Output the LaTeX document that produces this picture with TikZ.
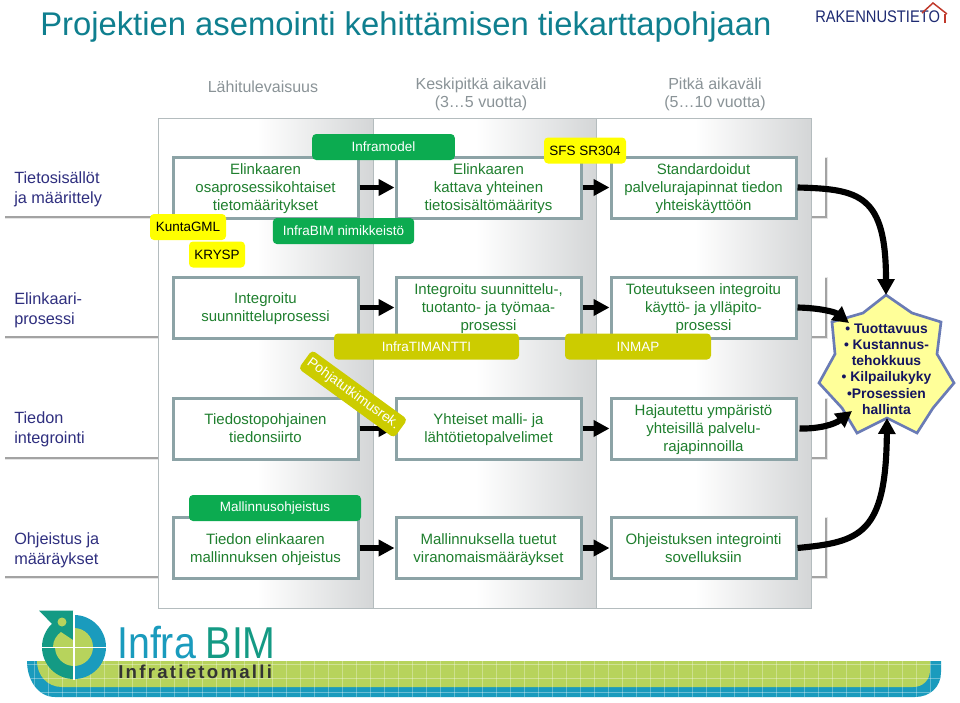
\documentclass[tikz,border=0pt]{standalone}
\usepackage{fontspec}
\usepackage{graphicx}
\setmainfont{Liberation Sans}
\usetikzlibrary{arrows.meta,shapes.geometric}
\definecolor{boxedge}{HTML}{8CA3A6}
\definecolor{boxtext}{HTML}{1F7F2E}
\definecolor{headtext}{HTML}{2F2F7F}
\definecolor{greytext}{HTML}{8A9397}
\definecolor{titlecol}{HTML}{0F7F8F}
\definecolor{taggreen}{HTML}{0CAB50}
\definecolor{tagyellow}{HTML}{FFFF00}
\definecolor{tagolive}{HTML}{CCCC00}
\definecolor{panelgrey}{HTML}{D4D6D7}
\definecolor{paneledge}{HTML}{B4BCBE}
\definecolor{logoteal}{HTML}{149A84}
\definecolor{logoblue}{HTML}{1A9BBD}
\definecolor{logolime}{HTML}{B7D35C}
\definecolor{starfill}{HTML}{FFFF99}
\definecolor{staredge}{HTML}{6A7BB5}
\definecolor{navy}{HTML}{14145F}
\definecolor{rtnavy}{HTML}{1D2A72}
\definecolor{rtred}{HTML}{C0392B}
\pgfdeclarehorizontalshading{panelshade}{100bp}{color(0bp)=(white);color(48bp)=(white);color(75bp)=(panelgrey);color(100bp)=(panelgrey)}
\newcommand\lns[1]{\vbox{\vskip2.4pt\hbox{\begin{tabular}{@{}c@{}}#1\end{tabular}}}}
\tikzset{
  x=0.75pt,y=-0.75pt,
  panel/.style={draw=paneledge,line width=0.75pt,shading=panelshade},
  strip/.style={fill=white},
  stripshadow/.style={fill=black!36},
  stripshadowb/.style={fill=black!10},
  headlabel/.style={anchor=west,align=left,inner sep=0pt,text=headtext,font=\fontsize{12.2}{15}\selectfont},
  stepbox/.style={draw=boxedge,fill=white,line width=2.25pt,minimum width=138.75pt,minimum height=45.75pt,inner sep=0pt,text=boxtext,font=\fontsize{11.25}{13.5}\selectfont},
  tag/.style={rounded corners=3pt,inner sep=0pt,minimum height=19.5pt,font=\fontsize{10.1}{12}\selectfont},
  greentag/.style={tag,fill=taggreen,text=white},
  yellowtag/.style={tag,fill=tagyellow,text=black},
  olivetag/.style={tag,fill=tagolive,text=white},
  flow/.style={line width=4.2pt,-{Triangle[length=12pt,width=12pt]}},
  bigflow/.style={line width=4.6pt,-{Triangle[length=12pt,width=12.5pt]}},
  coltitle/.style={align=center,text=greytext,inner sep=0pt,font=\fontsize{12}{13.5}\selectfont},
}
\begin{document}
\begin{tikzpicture}
\useasboundingbox (0,0) rectangle (960,703);
\fill[white] (0,0) rectangle (960,703);

% title and column titles
\node[anchor=west,inner sep=0pt,text=titlecol,font=\fontsize{24.6}{27}\selectfont] (title) at (40,27) {Projektien asemointi kehittämisen tiekarttapohjaan};
\node[coltitle] (c1) at (263,87) {Lähitulevaisuus};
\node[coltitle] (c2) at (481,94) {Keskipitkä aikaväli\\(3…5 vuotta)};
\node[coltitle] (c3) at (715,94) {Pitkä aikaväli\\(5…10 vuotta)};

% Rakennustieto logo
\node[anchor=west,inner sep=0pt,text=rtnavy,font=\fontsize{12.6}{14}\selectfont] (rt) at (815,17) {\scalebox{0.875}[1]{RAKENNUSTIETO}};
\draw[rtred,line width=1.1pt] (922,13) -- (933,3) -- (947,14);
\draw[rtred,line width=1pt] (945,14) -- (945,23);

% row strips behind the panels
\foreach \ya/\yb in {157/216,277/336,398/457,517/576}{
  \fill[stripshadowb] (5,\ya) rectangle (828,\yb+3);
  \fill[stripshadow] (5,\ya+1) rectangle (826.5,\yb+1.5);
  \fill[strip] (5,\ya) rectangle (825,\yb);
}

% panels
\path[panel] (158,118) rectangle (373,608);
\path[panel] (373,118) rectangle (596,608);
\path[panel] (596,118) rectangle (811,608);

% row labels
\node[headlabel] (h1) at (14,189.5) {Tietosisällöt\\ja määrittely};
\node[headlabel] (h2) at (14,310) {Elinkaari-\\prosessi};
\node[headlabel] (h3) at (14,429.5) {Tiedon\\integrointi};
\node[headlabel] (h4) at (14,550) {Ohjeistus ja\\määräykset};

% boxes
\node[stepbox] (b11) at (265.5,187.5) {\lns{Elinkaaren\\osaprosessikohtaiset\\tietomääritykset}};
\node[stepbox] (b12) at (488.5,187.5) {\lns{Elinkaaren\\kattava yhteinen\\tietosisältömääritys}};
\node[stepbox] (b13) at (703.5,187.5) {\lns{Standardoidut\\palvelurajapinnat tiedon\\yhteiskäyttöön}};
\node[stepbox] (b21) at (265.5,307.5) {\lns{Integroitu\\suunnitteluprosessi}};
\node[stepbox] (b22) at (488.5,307.5) {\lns{Integroitu suunnittelu-,\\tuotanto- ja työmaa-\\prosessi}};
\node[stepbox] (b23) at (703.5,307.5) {\lns{Toteutukseen integroitu\\käyttö- ja ylläpito-\\prosessi}};
\node[stepbox] (b31) at (265.5,428.5) {\lns{Tiedostopohjainen\\tiedonsiirto}};
\node[stepbox] (b32) at (488.5,428.5) {\lns{Yhteiset malli- ja\\lähtötietopalvelimet}};
\node[stepbox] (b33) at (703.5,428.5) {\lns{Hajautettu ympäristö\\yhteisillä palvelu-\\rajapinnoilla}};
\node[stepbox] (b41) at (265.5,548) {\lns{Tiedon elinkaaren\\mallinnuksen ohjeistus}};
\node[stepbox] (b42) at (488.5,548) {\lns{Mallinnuksella tuetut\\viranomaismääräykset}};
\node[stepbox] (b43) at (703.5,548) {\lns{Ohjeistuksen integrointi\\sovelluksiin}};

% straight arrows
\foreach \r in {1,2,3,4}{
  \draw[flow] (b\r1.east) -- (b\r2.west);
  \draw[flow] (b\r2.east) -- (b\r3.west);
}

% star
\coordinate (s1) at (886,295);
\coordinate (s2) at (912,313);
\coordinate (s3) at (941,322);
\coordinate (s4) at (937,354);
\coordinate (s5) at (954,383);
\coordinate (s6) at (933,408);
\coordinate (s7) at (917,433);
\coordinate (s8) at (887,418);
\coordinate (s9) at (857,433);
\coordinate (s10) at (842,408);
\coordinate (s11) at (819,383);
\coordinate (s12) at (835,354);
\coordinate (s13) at (832,322);
\coordinate (s14) at (863,313);
\draw[draw=staredge,fill=starfill,line width=2pt,line join=miter] (s1)--(s2)--(s3)--(s4)--(s5)--(s6)--(s7)--(s8)--(s9)--(s10)--(s11)--(s12)--(s13)--(s14)--cycle;
\node[align=center,inner sep=0pt,text=navy,font=\bfseries\fontsize{10.4}{12.2}\selectfont] (goal) at (886.5,369)
  {• Tuottavuus\\• Kustannus-\\tehokkuus\\• Kilpailukyky\\•Prosessien\\hallinta};

% curved arrows
\draw[bigflow] (b13.east) .. controls (860,189) and (886,195) .. (s1);
\draw[bigflow] (b23.east) .. controls (820,308) and (835,312) .. (849,323);
\draw[bigflow] ([xshift=1.5pt]b33.east) .. controls (820,429) and (835,424) .. (852,411);
\draw[bigflow] (b43.east) .. controls (860,542) and (886,535) .. (s8);

% tags
\node[greentag,minimum width=107pt] (t1) at (383.5,147) {Inframodel};
\node[greentag,minimum width=106pt] (t2) at (343.5,231) {InfraBIM nimikkeistö};
\node[yellowtag,minimum width=57pt] (t3) at (188,227) {KuntaGML};
\node[yellowtag,minimum width=42pt] (t4) at (217,254.5) {KRYSP};
\node[yellowtag,minimum width=61.5pt] (t5) at (585,150.5) {SFS SR304};
\node[olivetag,minimum width=138.75pt] (t6) at (426.5,346.5) {InfraTIMANTTI};
\node[olivetag,minimum width=109.5pt] (t7) at (638,346.5) {INMAP};
\node[olivetag,rotate=-36,minimum width=88.5pt,minimum height=17.25pt,font=\fontsize{10.4}{12}\selectfont] (t8) at (353,394) {Pohjatutkimusrek.};
\node[greentag,minimum width=129pt] (t9) at (275,508) {Mallinnusohjeistus};

% InfraBIM logo: band
\fill[logoblue] (27,661) -- (941,661) -- (941,672) .. controls (941,687) and (930,697) .. (915,697) -- (55,697) .. controls (38,697) and (27,680) .. (27,661) -- cycle;
\fill[logolime] (37,661) -- (930,661) -- (930,670) .. controls (930,680) and (923,687) .. (913,687) -- (62,687) .. controls (47,687) and (37,675) .. (37,661) -- cycle;
\begin{scope}
  \clip (27,661) -- (941,661) -- (941,672) .. controls (941,687) and (930,697) .. (915,697) -- (55,697) .. controls (38,697) and (27,680) .. (27,661) -- cycle;
  \foreach \px in {34,48,...,944}
    \draw[white,opacity=0.3,line width=0.5pt] (\px,661) -- (\px,697);
  \foreach \py in {664,678,692}
    \draw[white,opacity=0.35,line width=0.5pt] (27,\py) -- (941,\py);
\end{scope}
% InfraBIM logo: bird in the ring
\begin{scope}
  \clip (42,615) rectangle (74,679);
  \fill[logoteal] (74,647) circle[radius=32];
\end{scope}
\begin{scope}
  \clip (74,615) rectangle (106,679);
  \fill[logoblue] (74,647) circle[radius=32];
\end{scope}
\fill[logoteal] (39,610.5) -- (73,610.5) -- (73,647) -- (46,647) -- (55,627) -- cycle;
\begin{scope}
  \clip (74,628) rectangle (93,666) (55,647) rectangle (74,666);
  \fill[logolime] (74,647) circle[radius=19];
\end{scope}
\fill[logolime] (73,647) -- (53,647) .. controls (53,640) and (57,635) .. (61,632) -- (73,640) -- cycle;
\fill[logolime] (62,622) circle[radius=4.5];
\draw[white,line width=1.1pt] (74,611) -- (74,680);
\draw[white,line width=1.1pt] (41,647.5) -- (107,647.5);
\node[anchor=base west,inner sep=0pt,text=logoblue,font=\fontsize{33.5}{36}\selectfont] (lg1) at (117,658) {\scalebox{0.88}[1]{Infra}};
\node[anchor=base east,inner sep=0pt,text=logoteal,font=\fontsize{33.5}{36}\selectfont] (lg2) at (276,658) {\scalebox{0.88}[1]{BIM}};
\node[anchor=base west,inner sep=0pt,text=black!80,font=\bfseries\fontsize{14}{16}\selectfont\addfontfeature{LetterSpace=12}] (lg3) at (118,678) {Infratietomalli};
\end{tikzpicture}
\end{document}
